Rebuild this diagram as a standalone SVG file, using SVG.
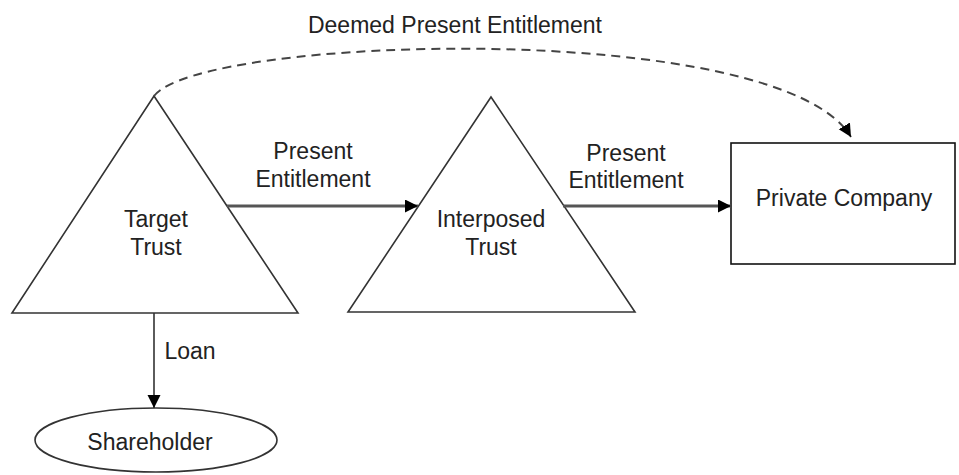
<svg xmlns="http://www.w3.org/2000/svg" width="959" height="475" viewBox="0 0 959 475">
  <style>
    .shape { fill: #ffffff; stroke: #333333; stroke-width: 1.6; }
    .rect { fill: #ffffff; stroke: #111111; stroke-width: 1.6; }
    .conn { fill: none; stroke: #555555; stroke-width: 3; }
    .thin { fill: none; stroke: #333333; stroke-width: 1.6; }
    .dash { fill: none; stroke: #444444; stroke-width: 2; stroke-dasharray: 9 6; }
    text { font-family: "Liberation Sans", Arial, sans-serif; font-size: 23px; fill: #222222; text-anchor: middle; }
  </style>
  <defs>
    <marker id="arrow" markerUnits="userSpaceOnUse" markerWidth="14" markerHeight="14" refX="13" refY="6.5" orient="auto">
      <path d="M0,0 L13,6.5 L0,13 Z" fill="#000000"/>
    </marker>
  </defs>

  <g id="target-trust">
    <polygon class="shape" points="154,96 298,313 12,313"/>
    <text x="156" y="227">Target</text>
    <text x="156" y="255">Trust</text>
  </g>

  <g id="interposed-trust">
    <polygon class="shape" points="491,97 635,312 348,312"/>
    <text x="491" y="227">Interposed</text>
    <text x="491" y="255">Trust</text>
  </g>

  <g id="private-company">
    <rect class="rect" x="731" y="143" width="224" height="121"/>
    <text x="844" y="206">Private Company</text>
  </g>

  <g id="shareholder">
    <ellipse class="shape" cx="156" cy="440" rx="121" ry="32"/>
    <text x="150" y="450">Shareholder</text>
  </g>

  <g id="connectors">
    <path class="conn" d="M227,206 L418,206" marker-end="url(#arrow)"/>
    <path class="conn" d="M563,206 L731,206" marker-end="url(#arrow)"/>
    <path class="thin" d="M154,313 L154,408" marker-end="url(#arrow)"/>
    <path class="dash" d="M154,96 C200,35 780,18 851,137" marker-end="url(#arrow)"/>
  </g>

  <g id="labels">
    <text x="455" y="33">Deemed Present Entitlement</text>
    <text x="313" y="159">Present</text>
    <text x="313" y="187">Entitlement</text>
    <text x="626" y="161">Present</text>
    <text x="626" y="188">Entitlement</text>
    <text x="190" y="359">Loan</text>
  </g>
</svg>
